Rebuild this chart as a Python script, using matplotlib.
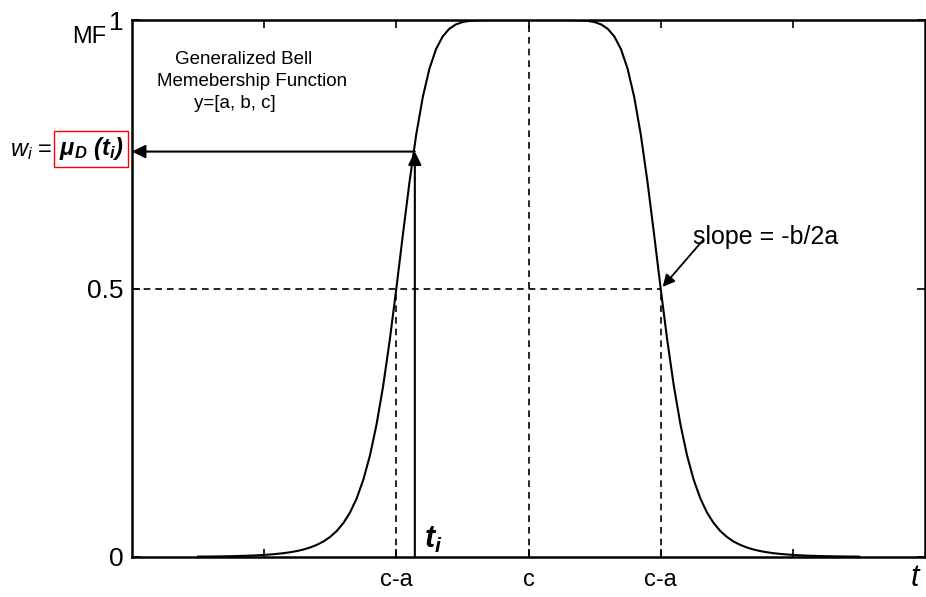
import numpy as np
import matplotlib
matplotlib.use("Agg")
import matplotlib.pyplot as plt

plt.rcParams['font.family'] = ['Liberation Sans', 'DejaVu Sans']
plt.rcParams['mathtext.fontset'] = 'custom'
plt.rcParams['mathtext.rm'] = 'Liberation Sans'
plt.rcParams['mathtext.it'] = 'Liberation Sans:italic'
plt.rcParams['mathtext.bf'] = 'Liberation Sans:italic:bold'

# ---- data (a=1, c=0 units) ----
t_half = [0.0, 0.05, 0.1, 0.15, 0.2, 0.25, 0.3, 0.35, 0.4, 0.45, 0.5, 0.55,
          0.6, 0.65, 0.7, 0.75, 0.8, 0.85, 0.9, 0.95, 1.0, 1.05, 1.1, 1.15,
          1.2, 1.25, 1.3, 1.35, 1.4, 1.45, 1.5, 1.55, 1.6, 1.65, 1.7, 1.75,
          1.8, 1.85, 1.9, 1.95, 2.0, 2.05, 2.1, 2.15, 2.2, 2.25, 2.3, 2.35,
          2.4, 2.45, 2.5]
mf_half = [1.0, 1.0, 1.0, 1.0, 1.0, 1.0, 0.9999, 0.9998, 0.9993, 0.9983,
           0.9961, 0.9917, 0.9835, 0.9691, 0.9455, 0.9090, 0.8563, 0.7859,
           0.6991, 0.6012, 0.5, 0.4036, 0.3181, 0.2464, 0.1887, 0.1437,
           0.1092, 0.0831, 0.0635, 0.0487, 0.0376, 0.0291, 0.0228, 0.0179,
           0.0141, 0.0112, 0.0090, 0.0072, 0.0059, 0.0048, 0.0039, 0.0032,
           0.0026, 0.0022, 0.0018, 0.0015, 0.0013, 0.0011, 0.0009, 0.0008,
           0.0007]
x_ticks = [-2, -1, 0, 1, 2]
x_tick_labels = ['', 'c-a', 'c', 'c-a', '']
y_ticks = [0, 0.5, 1]
y_tick_labels = ['0', '0.5', '1']
t_i = -0.86
w_i = 0.755
half_level = 0.5
c_pos = 0.0
ca_left = -1.0
ca_right = 1.0

t_full = [-v for v in t_half[:0:-1]] + t_half
mf_full = mf_half[:0:-1] + mf_half

W, H = 926, 597
fig = plt.figure(figsize=(W / 100, H / 100), dpi=100)
ax = fig.add_axes([132 / W, 1 - 557 / H, 793 / W, 537 / H])

def px(x, y):
    return (x / W, 1 - y / H)

ax.plot(t_full, mf_full, color='black', lw=1.5, zorder=3)

dash = dict(color='black', lw=1.2, linestyle=(0, (4, 3)))
ax.plot([-3, ca_right], [half_level, half_level], **dash)
ax.plot([ca_left, ca_left], [0, half_level], **dash)
ax.plot([ca_right, ca_right], [0, half_level], **dash)
ax.plot([c_pos, c_pos], [0, 1], **dash)

arrow = dict(arrowstyle='-|>', mutation_scale=20, lw=1.5, color='black',
             shrinkA=0, shrinkB=0)
ax.annotate('', xy=(t_i, w_i), xytext=(t_i, 0), arrowprops=arrow)
ax.annotate('', xy=(-3, w_i), xytext=(t_i, w_i), arrowprops=arrow,
            annotation_clip=False)
ax.annotate('', xy=(1.015, 0.503), xytext=(1.32, 0.59),
            arrowprops=dict(arrowstyle='-|>', mutation_scale=18, lw=1.3,
                            color='black', shrinkA=0, shrinkB=0))

ax.set_xlim(-3, 3)
ax.set_ylim(0, 1)
ax.set_xticks(x_ticks)
ax.set_xticklabels(x_tick_labels, fontsize=17)
ax.set_yticks(y_ticks)
ax.set_yticklabels(y_tick_labels, fontsize=19)
ax.tick_params(direction='in', length=6, width=1.2, top=True, right=True,
               pad=6)
ax.tick_params(axis='x', pad=9)
for s in ax.spines.values():
    s.set_linewidth(1.8)

# texts
fig.text(*px(693, 237), 'slope = -b/2a', fontsize=18, ha='left', va='center')
ax.text(-0.79, 0.032, r'$\mathbf{t_i}$', fontsize=22, ha='left', va='center')
fig.text(*px(89, 37), 'MF', fontsize=17, ha='center', va='center')
fig.text(*px(916, 578), r'$t$', fontsize=22, ha='center', va='center')
fig.text(*px(244, 60), 'Generalized Bell', fontsize=13.5, ha='center', va='center')
fig.text(*px(252, 82), 'Memebership Function', fontsize=13.5, ha='center', va='center')
fig.text(*px(235, 104), 'y=[a, b, c]', fontsize=13.5, ha='center', va='center')
fig.text(*px(31, 151), r'$w_i$ =', fontsize=17, ha='center', va='center')
fig.text(*px(91, 149), r'$\mathbf{μ_D\ (t_i)}$', fontsize=17, ha='center', va='center',
         bbox=dict(boxstyle='square,pad=0.2', fc='white', ec='red', lw=1))

fig.savefig('out.png', dpi=100)
